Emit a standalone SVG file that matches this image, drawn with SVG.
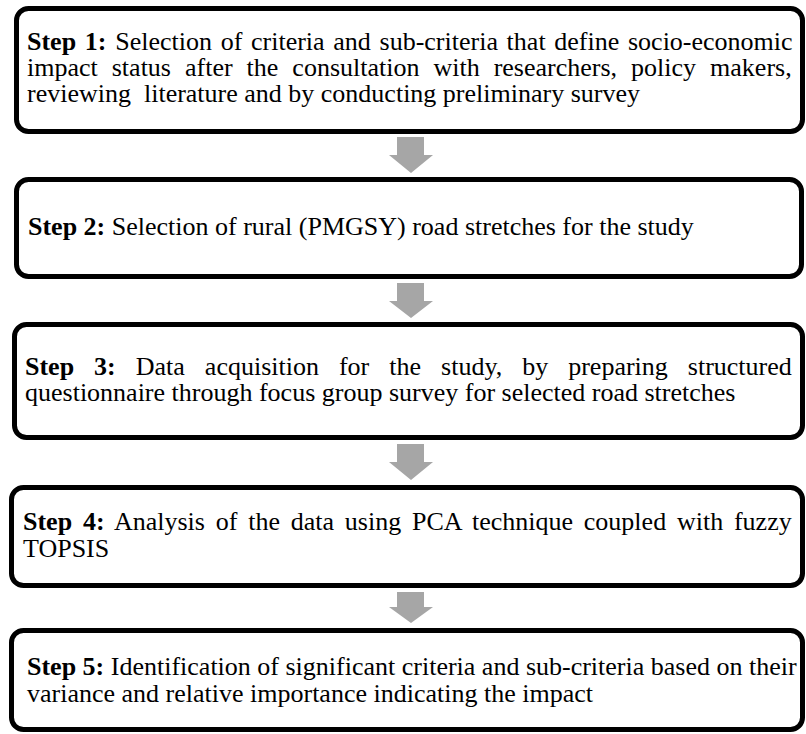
<svg xmlns="http://www.w3.org/2000/svg" width="806" height="734" viewBox="0 0 806 734">
<style>
.box{fill:#ffffff;stroke:#000000;stroke-width:5}
.t{font-family:"Liberation Serif","Times New Roman",serif;font-size:26px;fill:#000000}
.b{font-weight:bold}
.arr{fill:#a6a6a6;stroke:none}
</style>
<rect width="806" height="734" fill="#ffffff"/>
<g id="connectors">
<path class="arr" d="M397,137 H424 V155 H433 L411,173 L389,155 H397 Z"/>
<path class="arr" d="M397,283 H424 V301 H433 L411,318 L389,301 H397 Z"/>
<path class="arr" d="M397,444 H424 V462 H433 L411,480 L389,462 H397 Z"/>
<path class="arr" d="M397,592 H424 V607 H433 L411,623 L389,607 H397 Z"/>
</g>
<g id="step1">
<rect class="box" x="16.5" y="8.5" width="786" height="123" rx="12"/>
<text class="t" x="27" y="50" word-spacing="2.2"><tspan class="b">Step 1:</tspan> Selection of criteria and sub-criteria that define socio-economic</text>
<text class="t" x="27" y="76" word-spacing="7.5">impact status after the consultation with researchers, policy makers,</text>
<text class="t" x="27" y="102" xml:space="preserve">reviewing  literature and by conducting preliminary survey</text>
</g>
<g id="step2">
<rect class="box" x="16.5" y="179.5" width="785" height="97" rx="12"/>
<text class="t" x="28" y="235"><tspan class="b">Step 2:</tspan> Selection of rural (PMGSY) road stretches for the study</text>
</g>
<g id="step3">
<rect class="box" x="14.5" y="324.5" width="788" height="113" rx="12"/>
<text class="t" x="25" y="375" word-spacing="13.5"><tspan class="b">Step 3:</tspan> Data acquisition for the study, by preparing structured</text>
<text class="t" x="25" y="401">questionnaire through focus group survey for selected road stretches</text>
</g>
<g id="step4">
<rect class="box" x="11.5" y="487.5" width="791" height="98" rx="12"/>
<text class="t" x="23" y="530" word-spacing="4.3"><tspan class="b">Step 4:</tspan> Analysis of the data using PCA technique coupled with fuzzy</text>
<text class="t" x="23" y="557">TOPSIS</text>
</g>
<g id="step5">
<rect class="box" x="11.5" y="630.5" width="791" height="99" rx="12"/>
<text class="t" x="27" y="675"><tspan class="b">Step 5:</tspan> Identification of significant criteria and sub-criteria based on their</text>
<text class="t" x="27" y="702">variance and relative importance indicating the impact</text>
</g>
</svg>
